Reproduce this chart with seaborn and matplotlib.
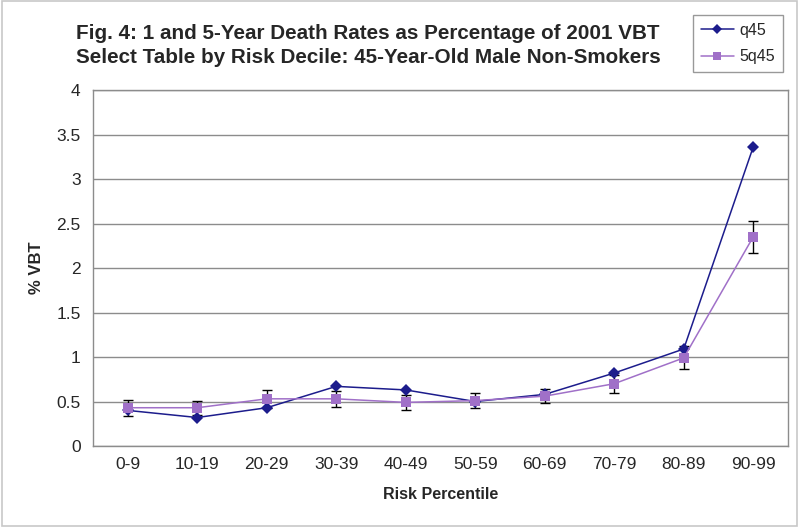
import matplotlib
matplotlib.use("Agg")
import matplotlib.pyplot as plt
import seaborn as sns
import pandas as pd
from matplotlib.patches import Rectangle

# Data
deciles = ["0-9", "10-19", "20-29", "30-39", "40-49",
           "50-59", "60-69", "70-79", "80-89", "90-99"]
q45 = [0.40, 0.32, 0.43, 0.67, 0.63, 0.50, 0.58, 0.82, 1.09, 3.36]
q5_45 = [0.43, 0.43, 0.53, 0.53, 0.49, 0.51, 0.56, 0.70, 0.99, 2.35]
q5_45_err = [0.09, 0.08, 0.10, 0.09, 0.08, 0.08, 0.08, 0.10, 0.13, 0.18]

pos = list(range(len(deciles)))
df = pd.DataFrame({
    "pos": pos * 2,
    "value": q45 + q5_45,
    "series": ["q45"] * len(pos) + ["5q45"] * len(pos),
})

sns.set_style("white")
plt.rcParams["font.family"] = ["Liberation Sans", "DejaVu Sans"]

fig = plt.figure(figsize=(7.99, 5.27), dpi=100)
ax = fig.add_axes([0.1164, 0.1537, 0.8698, 0.6755])

navy = "#1c1c8c"
purple = "#a070c8"

# error bars first so markers sit on top
ax.errorbar(pos, q5_45, yerr=q5_45_err, fmt="none", ecolor="black",
            elinewidth=1, capsize=3.5, capthick=1, zorder=2)

sns.lineplot(data=df, x="pos", y="value", hue="series", style="series",
             palette={"q45": navy, "5q45": purple},
             markers={"q45": "D", "5q45": "s"}, dashes=False,
             markersize=6.5, linewidth=1.1, markeredgewidth=0, ax=ax, zorder=3)

ax.set_xlim(-0.5, len(deciles) - 0.5)
ax.set_ylim(0, 4)
ax.set_yticks([0, 0.5, 1, 1.5, 2, 2.5, 3, 3.5, 4])
ax.set_yticklabels(["0", "0.5", "1", "1.5", "2", "2.5", "3", "3.5", "4"])
ax.set_xticks(pos)
ax.set_xticklabels(deciles)
ax.set_xticks([p - 0.5 for p in pos] + [len(pos) - 0.5], minor=True)
ax.tick_params(axis="x", which="major", length=0, pad=8, labelsize=12.5)
ax.tick_params(axis="x", which="minor", length=5, color="#808080", direction="out")
ax.tick_params(axis="y", length=5, color="#808080", direction="out", labelsize=12.5, pad=4)
ax.yaxis.grid(True, color="#8c8c8c", linewidth=1)
ax.set_axisbelow(True)
for s in ax.spines.values():
    s.set_color("#8c8c8c")
    s.set_linewidth(1)

ax.set_xlabel("Risk Percentile", fontsize=11.5, fontweight="bold", labelpad=11)
ax.set_ylabel("% VBT", fontsize=12, fontweight="bold", labelpad=9)

fig.text(0.4606, 0.926, "Fig. 4: 1 and 5-Year Death Rates as Percentage of 2001 VBT",
         ha="center", va="baseline", fontsize=14.9, fontweight="bold")
fig.text(0.4606, 0.881, "Select Table by Risk Decile: 45-Year-Old Male Non-Smokers",
         ha="center", va="baseline", fontsize=14.9, fontweight="bold")

handles, labels = ax.get_legend_handles_labels()
ax.legend(handles, labels, loc="upper left", bbox_to_anchor=(0.867, 0.9715),
          bbox_transform=fig.transFigure, frameon=True, fancybox=False,
          edgecolor="#808080", fontsize=11.5, handlelength=2.1, markerscale=0.8,
          handletextpad=0.3, borderpad=0.5, labelspacing=0.7, borderaxespad=0)

fig.patches.append(Rectangle((0.002, 0.002), 0.996, 0.996, transform=fig.transFigure,
                             fill=False, edgecolor="#c8c8c8", linewidth=1.2))

fig.savefig("out.png", dpi=100)
